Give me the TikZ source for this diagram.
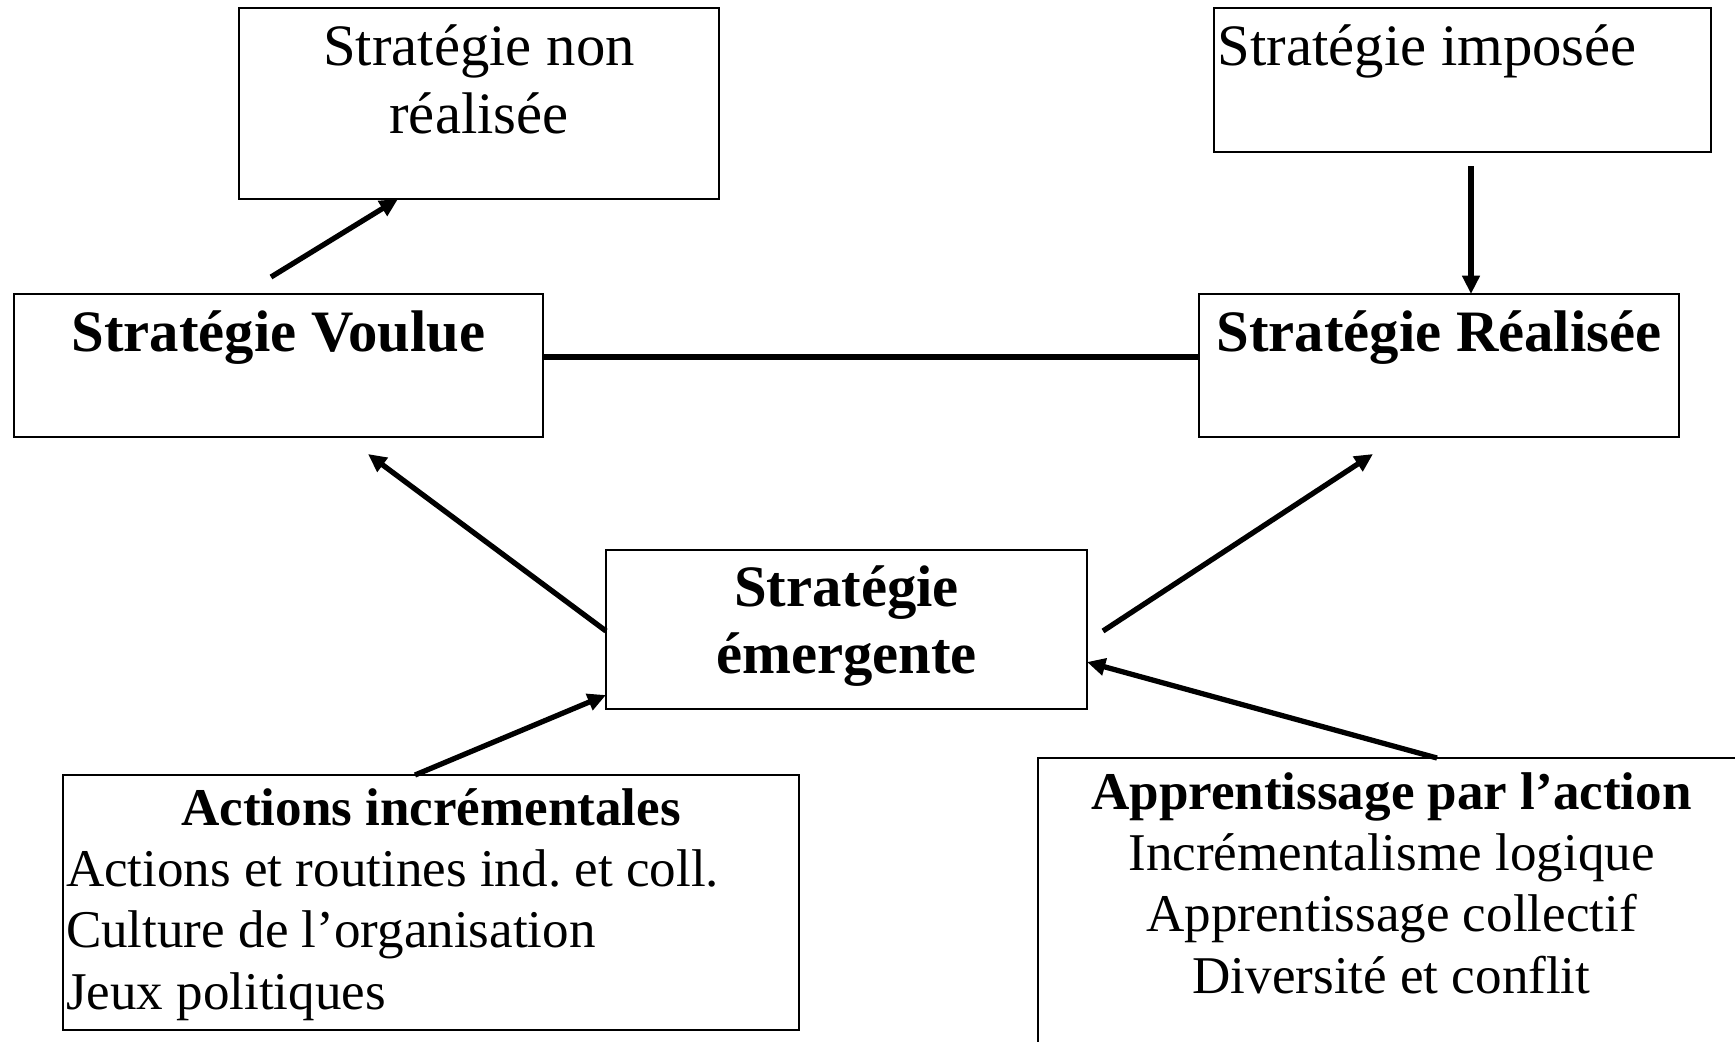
\documentclass[tikz,border=0pt]{standalone}
\usepackage{fontspec}
\setmainfont{Liberation Serif}
\frenchspacing
\usetikzlibrary{arrows.meta}
\usetikzlibrary{positioning}
\tikzset{box/.style = {draw, line width = 0.6pt, inner sep = 0, outer sep = 0}}
\tikzset{big/.style = {font = \fontsize{16.7}{19.2}\selectfont, inner sep = 0, align = center}}
\tikzset{small/.style = {font = \fontsize{15.1}{17.4}\selectfont, inner sep = 0}}
\tikzset{flow/.style = {-{Triangle[length = 5.2pt, width = 4.8pt]}, line width = 1.5pt}}

\begin{document}
\begin{tikzpicture}
      \useasboundingbox (0, 0) rectangle (17.35, -10.41);

      \node [box, minimum width = 4.80cm, minimum height = 1.91cm] (nonreal) at (4.79, -1.035) {};
      \node [big, below = 0.16cm of nonreal.north] (nonreal-t) {Stratégie non\\réalisée};
      \node [box, minimum width = 4.97cm, minimum height = 1.44cm] (imposee) at (14.625, -0.80) {};
      \node [big, anchor = north west] (imposee-t) at ([xshift = 0.03cm, yshift = -0.16cm] imposee.north west) {Stratégie imposée};

      \node [box, minimum width = 5.29cm, minimum height = 1.43cm] (voulue) at (2.785, -3.655) {};
      \node [big, font = \fontsize{16.7}{19.2}\selectfont\bfseries, below = 0.16cm of voulue.north] (voulue-t) {Stratégie Voulue};
      \node [box, minimum width = 4.80cm, minimum height = 1.43cm] (realisee) at (14.39, -3.655) {};
      \node [big, font = \fontsize{16.7}{19.2}\selectfont\bfseries, below = 0.16cm of realisee.north] (realisee-t) {Stratégie Réalisée};

      \node [box, minimum width = 4.81cm, minimum height = 1.59cm] (emergente) at (8.465, -6.295) {};
      \node [big, font = \fontsize{16.7}{19.2}\selectfont\bfseries, below = 0.15cm of emergente.north] (emergente-t) {Stratégie\\émergente};

      \node [box, minimum width = 7.36cm, minimum height = 2.55cm] (actions) at (4.31, -9.025) {};
      \node [small, text width = 7.30cm, align = flush left, below = 0.13cm of actions.north] (actions-t)
      {\makebox[\linewidth]{\bfseries Actions incrémentales}\\Actions et routines ind. et coll.\\Culture de l’organisation\\Jeux politiques};
      \node [box, minimum width = 7.07cm, minimum height = 2.92cm] (apprent) at (13.915, -9.04) {};
      \node [small, align = center, below = 0.14cm of apprent.north] (apprent-t)
      {\textbf{Apprentissage par l’action}\\Incrémentalisme logique\\Apprentissage collectif\\Diversité et conflit};

      \coordinate (voulue-out) at ([xshift = 2.57cm, yshift = 0.17cm] voulue.north west);
      \coordinate (imposee-out) at ([xshift = 2.57cm, yshift = -0.14cm] imposee.south west);
      \coordinate (voulue-in) at ([xshift = 3.54cm, yshift = -0.17cm] voulue.south west);
      \coordinate (realisee-in) at ([xshift = 1.74cm, yshift = -0.17cm] realisee.south west);
      \coordinate (emergente-out) at ([xshift = 0.16cm, yshift = -0.015cm] emergente.east);

      \draw [flow] (voulue-out) -- ([xshift = 1.59cm] nonreal.south west);
      \draw [flow] (imposee-out) -- (imposee-out |- realisee.north);
      \draw [line width = 1.5pt] ([yshift = 0.085cm] voulue.east) -- ([yshift = 0.085cm] realisee.west);
      \draw [flow] ([yshift = -0.015cm] emergente.west) -- (voulue-in);
      \draw [flow] (emergente-out) -- (realisee-in);
      \draw [flow] ([xshift = 3.52cm] actions.north west) -- ([yshift = 0.14cm] emergente.south west);
      \draw [flow] ([xshift = 3.99cm] apprent.north west) -- ([yshift = -0.325cm] emergente.east);
    \end{tikzpicture}
\end{document}
